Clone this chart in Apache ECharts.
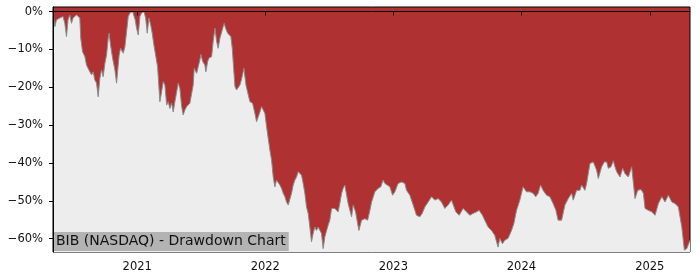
<!DOCTYPE html>
<html>
<head>
<meta charset="utf-8">
<script src="https://cdn.jsdelivr.net/npm/echarts@6/dist/echarts.min.js"></script>
<style>html,body{margin:0;padding:0;background:#fff}#c{width:700px;height:280px}</style>
</head>
<body>
<div id="c"></div>
<script>
// time as decimal years, drawdown in percent
var times = [2020.344,2020.350,2020.358,2020.371,2020.383,2020.397,2020.410,2020.422,2020.436,2020.449,2020.461,2020.475,2020.488,2020.500,2020.514,2020.527,2020.539,2020.553,2020.560,2020.574,2020.592,2020.605,2020.617,2020.631,2020.644,2020.657,2020.670,2020.683,2020.696,2020.709,2020.722,2020.735,2020.748,2020.761,2020.774,2020.781,2020.792,2020.808,2020.826,2020.839,2020.847,2020.859,2020.870,2020.878,2020.891,2020.904,2020.917,2020.930,2020.943,2020.964,2020.974,2020.984,2020.995,2021.008,2021.021,2021.034,2021.052,2021.066,2021.078,2021.091,2021.105,2021.117,2021.130,2021.159,2021.177,2021.190,2021.203,2021.216,2021.230,2021.242,2021.255,2021.269,2021.281,2021.294,2021.308,2021.320,2021.333,2021.347,2021.359,2021.372,2021.386,2021.398,2021.411,2021.425,2021.437,2021.445,2021.456,2021.464,2021.476,2021.489,2021.497,2021.511,2021.528,2021.536,2021.550,2021.560,2021.581,2021.593,2021.607,2021.620,2021.632,2021.646,2021.659,2021.671,2021.679,2021.690,2021.706,2021.716,2021.731,2021.742,2021.753,2021.763,2021.776,2021.788,2021.802,2021.815,2021.833,2021.849,2021.867,2021.880,2021.901,2021.919,2021.932,2021.945,2021.958,2021.971,2021.984,2021.997,2022.010,2022.023,2022.036,2022.049,2022.062,2022.075,2022.088,2022.101,2022.114,2022.127,2022.140,2022.153,2022.166,2022.179,2022.192,2022.205,2022.218,2022.231,2022.244,2022.257,2022.270,2022.283,2022.296,2022.309,2022.322,2022.335,2022.348,2022.361,2022.374,2022.387,2022.400,2022.413,2022.426,2022.439,2022.452,2022.465,2022.479,2022.491,2022.504,2022.518,2022.530,2022.543,2022.557,2022.569,2022.582,2022.596,2022.608,2022.621,2022.647,2022.674,2022.686,2022.705,2022.731,2022.752,2022.764,2022.778,2022.799,2022.817,2022.830,2022.856,2022.881,2022.902,2022.920,2022.934,2022.947,2022.973,2022.994,2023.012,2023.037,2023.064,2023.076,2023.090,2023.103,2023.129,2023.155,2023.181,2023.207,2023.225,2023.246,2023.272,2023.298,2023.324,2023.350,2023.376,2023.402,2023.428,2023.454,2023.467,2023.488,2023.514,2023.545,2023.571,2023.597,2023.623,2023.650,2023.670,2023.696,2023.714,2023.740,2023.767,2023.792,2023.818,2023.831,2023.852,2023.870,2023.896,2023.923,2023.941,2023.962,2023.988,2024.013,2024.040,2024.066,2024.091,2024.112,2024.130,2024.149,2024.169,2024.196,2024.222,2024.247,2024.269,2024.286,2024.313,2024.339,2024.365,2024.391,2024.404,2024.430,2024.456,2024.469,2024.495,2024.508,2024.534,2024.560,2024.573,2024.586,2024.599,2024.625,2024.646,2024.664,2024.677,2024.698,2024.716,2024.729,2024.742,2024.768,2024.789,2024.807,2024.833,2024.859,2024.885,2024.906,2024.932,2024.950,2024.963,2024.989,2025.016,2025.041,2025.067,2025.094,2025.119,2025.145,2025.172,2025.197,2025.223,2025.250,2025.270,2025.289,2025.314];
var drawdown = [0,0,-4.0,-2.2,-2.6,-1.7,-2.2,-1.3,-3.1,-6.6,-2.2,-0.9,-3.1,-1.7,-1.3,-0.9,-0.4,-1.7,-7.0,-10.6,-11.9,-14.1,-15.0,-15.4,-16.7,-15.9,-18.1,-18.9,-22.5,-17.6,-15.4,-17.2,-13.7,-11.5,-7.0,-5.7,-8.8,-12.3,-15.4,-18.9,-15.9,-11.5,-9.7,-10.1,-11.0,-9.3,-5.3,-1.3,-0.4,0,0,-2.2,-4.4,-6.2,-1.3,-0.4,0,-1.7,-5.7,-1.7,-3.5,-5.7,-8.8,-14.6,-23.8,-21.2,-18.5,-19.4,-24.7,-23.8,-25.6,-24.2,-26.5,-23.8,-21.2,-18.9,-20.3,-25.1,-27.3,-26.0,-25.1,-24.7,-24.2,-23.8,-19.4,-15.0,-15.4,-16.3,-14.6,-12.8,-11.3,-13.2,-14.1,-15.9,-13.2,-12.3,-11.9,-7.9,-4.4,-7.9,-9.7,-7.0,-6.6,-4.0,-3.1,-4.4,-5.7,-5.3,-6.6,-9.7,-15.0,-19.8,-20.7,-20.3,-19.4,-17.8,-15.0,-19.4,-22.0,-23.8,-24.2,-26.9,-29.1,-27.8,-26.5,-25.1,-26.0,-26.9,-30.4,-33.5,-36.6,-39.2,-43.7,-46.3,-44.5,-44.1,-45.8,-46.7,-48.0,-48.9,-50.3,-51.1,-51.6,-48.0,-45.8,-44.5,-43.7,-42.3,-41.9,-43.2,-45.4,-48.0,-51.6,-53.3,-56.9,-60.8,-58.6,-56.9,-57.8,-56.9,-57.3,-58.6,-62.6,-59.5,-57.8,-56.4,-55.1,-52.0,-51.6,-52.0,-52.5,-52.9,-50.7,-48.0,-46.7,-45.8,-50.7,-54.2,-51.1,-52.9,-57.8,-55.1,-55.6,-54.7,-55.1,-52.5,-50.3,-47.6,-46.7,-46.3,-44.5,-45.4,-45.0,-46.3,-48.5,-47.6,-45.4,-45.0,-44.5,-45.4,-47.2,-48.5,-51.1,-53.8,-54.2,-53.3,-51.6,-50.3,-48.9,-49.8,-49.4,-50.3,-52.0,-51.1,-49.8,-50.3,-52.9,-53.8,-52.0,-52.9,-53.8,-53.3,-52.9,-52.5,-53.8,-55.1,-56.9,-57.8,-59.1,-62.2,-59.9,-61.3,-60.4,-59.9,-57.8,-56.0,-52.5,-49.8,-46.3,-47.6,-47.6,-48.0,-48.9,-48.0,-45.8,-47.2,-48.5,-48.9,-50.7,-52.5,-55.1,-55.1,-51.1,-49.4,-48.0,-49.8,-47.2,-47.2,-45.8,-47.2,-45.4,-40.1,-39.7,-39.2,-41.9,-44.1,-41.0,-39.7,-39.7,-41.4,-41.0,-39.4,-41.0,-42.3,-43.7,-41.4,-42.8,-43.7,-41.0,-49.4,-47.2,-47.0,-48.0,-52.0,-52.5,-52.9,-53.8,-50.7,-48.9,-50.3,-48.5,-50.3,-50.7,-51.6,-56.9,-63.0,-62.6,-60.4];
var yTicks = [0, -10, -20, -30, -40, -50, -60];
var xTickYears = [2021, 2022, 2023, 2024, 2025];
var titleText = 'BIB (NASDAQ) - Drawdown Chart';

function yearToMs(t) {
  var y = Math.floor(t), f = t - y;
  var a = Date.UTC(y, 0, 1), b = Date.UTC(y + 1, 0, 1);
  return a + f * (b - a);
}
var seriesData = times.map(function (t, i) { return [yearToMs(t), drawdown[i]]; });
var xTicks = xTickYears.map(function (y) { return Date.UTC(y, 0, 1); });

var font = 'DejaVu Sans';
var chart = echarts.init(document.getElementById('c'), null, { renderer: 'canvas' });
chart.setOption({
  animation: false,
  backgroundColor: '#ffffff',
  title: {
    text: titleText,
    left: 53, top: 232,
    padding: [2, 3, 2, 3],
    backgroundColor: '#b3b3b3',
    textStyle: { fontFamily: font, fontSize: 14, lineHeight: 15, fontWeight: 'normal', color: '#111' },
    z: 1
  },
  grid: {
    left: 53, top: 7, width: 637, height: 245,
    show: true, backgroundColor: '#b03131', borderColor: '#000', borderWidth: 1
  },
  xAxis: {
    type: 'value',
    min: yearToMs(times[0]), max: yearToMs(times[times.length - 1]),
    axisLine: { show: true, lineStyle: { color: '#000', width: 1 } },
    axisTick: { show: true, length: 4, lineStyle: { color: '#000' }, customValues: xTicks },
    axisLabel: {
      customValues: xTicks, margin: 9,
      fontFamily: font, fontSize: 11.5, color: '#111',
      formatter: function (v) { return String(new Date(v).getUTCFullYear()); }
    },
    splitLine: { show: false },
    z: 20
  },
  yAxis: {
    type: 'value', min: -63.5, max: 1.2,
    axisLine: { show: true, lineStyle: { color: '#000', width: 1 } },
    axisTick: { show: true, length: 4, lineStyle: { color: '#000' }, customValues: yTicks },
    axisLabel: {
      customValues: yTicks, margin: 10,
      fontFamily: font, fontSize: 11.5, color: '#111',
      formatter: function (v) { return (v < 0 ? '\u2212' : '') + Math.abs(v) + '%'; }
    },
    splitLine: { show: false },
    z: 20
  },
  series: [{
    type: 'line',
    data: seriesData,
    showSymbol: false,
    symbol: 'none',
    lineStyle: { color: '#8a8a8a', width: 1 },
    areaStyle: { color: '#ededed', origin: 'start', opacity: 1 },
    z: 0
  }]
});
</script>
</body>
</html>
